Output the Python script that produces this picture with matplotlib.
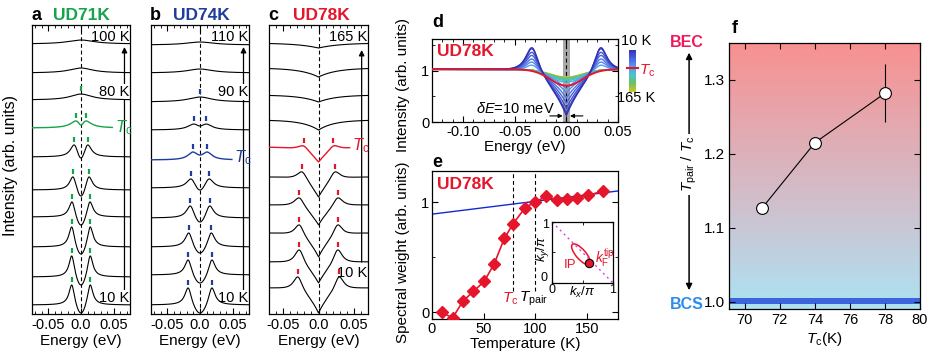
import numpy as np
import matplotlib
matplotlib.use("Agg")
import matplotlib.pyplot as plt
from matplotlib.colors import LinearSegmentedColormap, Normalize
from matplotlib.cm import ScalarMappable
from matplotlib.patches import Ellipse
from matplotlib.ticker import MultipleLocator

plt.rcParams["font.family"] = ["Liberation Sans", "DejaVu Sans"]
plt.rcParams["mathtext.fontset"] = "custom"
plt.rcParams["mathtext.rm"] = "Liberation Sans"
plt.rcParams["mathtext.it"] = "Liberation Sans:italic"
plt.rcParams["mathtext.bf"] = "Liberation Sans:bold"
plt.rcParams["font.size"] = 10.5
plt.rcParams["axes.linewidth"] = 0.9

GREEN = "#14A44A"
BLUE = "#1F3D9C"
RED = "#E5162C"

# ---- panels a-c: symmetrized EDCs, listed from 10 K (bottom) upwards ----
# offsets / peak heights / values at E=0 are in stack units (pixels of the panel)
a_offset = [9, 37, 67, 97, 124, 157, 186, 214, 241, 270]
a_gap = [0.014, 0.014, 0.014, 0.0135, 0.012, 0.010, 0.007, 0, 0, 0]
a_width = [0.005, 0.005, 0.0052, 0.0055, 0.006, 0.007, 0.011, 0.02, 0.022, 0.025]
a_peak = [20, 21, 20, 15, 13, 12, 7, 6, 5, 4]
a_floor = [-8, -8, -7, -8, -6, -1, 3, 0, 0, 0]

b_offset = [9, 39, 67, 96, 126, 154, 184, 212, 241, 269]
b_gap = [0.018, 0.018, 0.017, 0.0146, 0.0135, 0.011, 0.0095, 0, 0, 0]
b_width = [0.006, 0.006, 0.0065, 0.007, 0.008, 0.009, 0.011, 0.022, 0.024, 0.026]
b_peak = [17, 15, 14, 12, 9, 8, 6, 5, 4, 3]
b_floor = [-8, -8, -6, -4, -2, 5, 4, 0, 0, 0]

c_offset = [26, 52, 81, 109, 137, 167, 194, 219, 246, 271]
c_gap = [0.029, 0.027, 0.027, 0.027, 0.023, 0.021, 0, 0, 0, 0]
c_width = [0.008, 0.008, 0.008, 0.009, 0.009, 0.01, 0, 0, 0, 0]
c_peak = [11, 12, 8, 7, 5, 1, 0, 0, 0, 0]
c_floor = [-25, -21, -24, -20, -20, -15, -10, -7, -9, -5]
c_dipw = [0.018, 0.018, 0.018, 0.018, 0.018, 0.02, 0.022, 0.025, 0.025, 0.03]

# ---- panel d: normalized spectra UD78K ----
temps = [10, 20, 30, 40, 50, 60, 70, 78, 90, 100, 110, 120, 130, 140, 150, 165]
d_peak = [0.42, 0.40, 0.33, 0.27, 0.20, 0.14, 0.08, 0, 0, 0, 0, 0, 0, 0, 0, 0]
d_floor = [-0.90, -0.85, -0.76, -0.66, -0.56, -0.46, -0.38, -0.32,
           -0.25, -0.22, -0.20, -0.19, -0.18, -0.17, -0.16, -0.15]

# ---- panel e: spectral weight vs T ----
e_temp = [9.4, 20, 29.8, 40, 50.5, 60.2, 70, 78.3, 90.3, 100, 110, 121, 130.8, 140.5, 150.8, 165.7]
e_weight = [0.0, -0.05, 0.10, 0.19, 0.28, 0.44, 0.67, 0.80, 0.95, 1.0, 1.05, 1.02, 1.03, 1.04, 1.06, 1.10]
e_fit_T = [0, 180]
e_fit_W = [0.89, 1.10]

# ---- panel f ----
f_tc = [71, 74, 78]
f_ratio = [1.127, 1.215, 1.282]
f_err = [0, 0, 0.039]


def spectrum(e, gap, width, peak, floor, dipw, vshape):
    if vshape:
        dip = lambda x: np.exp(-np.abs(x) / dipw)
    else:
        dip = lambda x: np.exp(-(x / dipw) ** 2)
    if gap == 0:
        if peak > 0:
            return peak * width ** 2 / (e ** 2 + width ** 2)
        return floor * dip(e)

    def pair(x):
        return (width ** 2 / ((x - gap) ** 2 + width ** 2)
                + width ** 2 / ((x + gap) ** 2 + width ** 2))

    a, b = np.linalg.solve([[pair(gap), dip(gap)], [pair(0.0), dip(0.0)]], [peak, floor])
    return a * pair(e) + b * dip(e)


fig = plt.figure(figsize=(9.35, 3.59), dpi=100)


def stack_panel(rect, xlim, offsets, gaps, widths, peaks, floors, dipws, vshape,
                tc_idx, color, cut, zero_tick, labels, arrow_x, arrow_y, tc_pos):
    ax = fig.add_axes(rect)
    e = np.linspace(xlim[0], xlim[1], 700)
    for i in range(len(offsets)):
        dw = dipws[i] if dipws is not None else 0.7 * gaps[i] if gaps[i] else 0.01
        y = offsets[i] + spectrum(e, gaps[i], widths[i], peaks[i], floors[i], dw, vshape)
        if i == tc_idx:
            m = e <= cut
            ax.plot(e[m], y[m], color=color, lw=1.0, zorder=3)
        else:
            ax.plot(e, y, color="k", lw=0.8, zorder=3)
        if gaps[i] > 0:
            for s in (-1, 1):
                yp = offsets[i] + spectrum(np.array([s * gaps[i]]), gaps[i], widths[i],
                                           peaks[i], floors[i], dw, vshape)[0]
                ax.plot([s * gaps[i]] * 2, [yp + 3, yp + 8], color=color, lw=1.6,
                        solid_capstyle="butt", zorder=4)
        if i == zero_tick:
            yp = offsets[i] + peaks[i]
            ax.plot([0, 0], [yp + 3, yp + 8], color=color, lw=1.6,
                    solid_capstyle="butt", zorder=4)
    ax.axvline(0, color="k", lw=0.8, ls=(0, (3.5, 2.5)), zorder=2)
    ax.annotate("", xy=(arrow_x, arrow_y[1]), xytext=(arrow_x, arrow_y[0]),
                arrowprops=dict(arrowstyle="-|>", lw=0.9, color="k",
                                mutation_scale=8, shrinkA=0, shrinkB=0), zorder=1)
    for txt, yy in labels:
        ax.text(xlim[1] - 0.001, yy, txt, ha="right", va="center", fontsize=10.5,
                bbox=dict(fc="white", ec="none", pad=0.6), zorder=2)
    ax.text(tc_pos[0], tc_pos[1], r"$T_\mathrm{c}$", color=color, fontsize=12,
            ha="left", va="center", zorder=5)
    ax.set_xlim(xlim)
    ax.set_ylim(0, 289)
    ax.set_yticks([])
    ax.set_xticks([-0.05, 0, 0.05])
    ax.set_xticklabels(["-0.05", "0.0", "0.05"])
    ax.xaxis.set_minor_locator(MultipleLocator(0.01))
    ax.tick_params(axis="x", which="both", direction="in", top=True, pad=3, labelsize=10.5)
    ax.tick_params(axis="x", which="major", length=4)
    ax.tick_params(axis="x", which="minor", length=2.5)
    ax.set_xlabel("Energy (eV)", fontsize=11, labelpad=1)
    return ax


ax_a = stack_panel([0.0342, 0.1253, 0.1048, 0.805], (-0.075, 0.075), a_offset, a_gap,
                   a_width, a_peak, a_floor, None, False, 6, GREEN, 0.048, 7,
                   [("100 K", 277), ("80 K", 222), ("10 K", 16)], 0.0666, (24, 267),
                   (0.052, 186))
ax_b = stack_panel([0.1615, 0.1253, 0.1048, 0.805], (-0.075, 0.075), b_offset, b_gap,
                   b_width, b_peak, b_floor, None, False, 5, BLUE, 0.049, 7,
                   [("110 K", 277), ("90 K", 222), ("10 K", 16)], 0.0666, (24, 267),
                   (0.052, 156))
ax_c = stack_panel([0.2877, 0.1253, 0.1059, 0.805], (-0.07, 0.07), c_offset, c_gap,
                   c_width, c_peak, c_floor, c_dipw, True, 5, RED, 0.044, None,
                   [("165 K", 277), ("10 K", 41)], 0.061, (52, 264),
                   (0.047, 168))
ax_a.set_ylabel("Intensity (arb. units)", fontsize=11.5)
ax_a.yaxis.set_label_coords(-0.14, 0.515)

fig.text(0.034, 0.958, "a", fontsize=13, fontweight="bold", va="center")
fig.text(0.057, 0.958, "UD71K", fontsize=12.5, fontweight="bold", color=GREEN, va="center")
fig.text(0.160, 0.958, "b", fontsize=13, fontweight="bold", va="center")
fig.text(0.185, 0.958, "UD74K", fontsize=12.5, fontweight="bold", color=BLUE, va="center")
fig.text(0.287, 0.958, "c", fontsize=13, fontweight="bold", va="center")
fig.text(0.313, 0.958, "UD78K", fontsize=12.5, fontweight="bold", color=RED, va="center")

# ---- panel d ----
cmap_d = LinearSegmentedColormap.from_list(
    "tcol", ["#3232B0", "#4763E0", "#5A9CF0", "#48C4C8", "#70C060", "#CCC826"])
norm_d = Normalize(10, 165)
ax_d = fig.add_axes([0.462, 0.660, 0.199, 0.231])
ax_d.axvspan(-0.0035, 0.0035, color="#A8A8A8", lw=0, zorder=1)
ed = np.linspace(-0.13, 0.05, 700)
for i in range(len(temps) - 1, -1, -1):
    below = temps[i] < 78
    g = 0.033 if below else 0
    y = 1.03 + spectrum(ed, g, 0.008, d_peak[i], d_floor[i],
                        0.02 if below else 0.022, below)
    if temps[i] == 78:
        continue
    ax_d.plot(ed, y, color=cmap_d(norm_d(temps[i])), lw=1.0, zorder=3)
i_tc = temps.index(78)
ax_d.plot(ed, 1.03 + spectrum(ed, 0, 0.008, 0, d_floor[i_tc], 0.022, False),
          color=RED, lw=1.4, zorder=4)
ax_d.axvline(0, color="k", lw=0.8, ls=(0, (3.5, 2.5)), zorder=2)
ax_d.text(-0.125, 1.37, "UD78K", color=RED, fontsize=12.5, fontweight="bold", va="center")
ax_d.text(-0.049, 0.27, r"$\delta\mathit{E}$=10 meV", fontsize=10.5, ha="center", va="center")
ax_d.annotate("", xy=(-0.0035, 0.12), xytext=(-0.016, 0.12),
              arrowprops=dict(arrowstyle="-|>", lw=0.8, color="k", mutation_scale=6,
                              shrinkA=0, shrinkB=0))
ax_d.annotate("", xy=(0.0035, 0.12), xytext=(0.016, 0.12),
              arrowprops=dict(arrowstyle="-|>", lw=0.8, color="k", mutation_scale=6,
                              shrinkA=0, shrinkB=0))
ax_d.set_xlim(-0.13, 0.05)
ax_d.set_ylim(0, 1.62)
ax_d.set_xticks([-0.10, -0.05, 0.0, 0.05])
ax_d.set_xticklabels(["-0.10", "-0.05", "0.00", "0.05"])
ax_d.xaxis.set_minor_locator(MultipleLocator(0.01))
ax_d.set_yticks([0, 1])
ax_d.yaxis.set_minor_locator(MultipleLocator(0.5))
ax_d.tick_params(which="both", direction="in", top=True, right=True, pad=2, labelsize=10.5)
ax_d.tick_params(which="major", length=4)
ax_d.tick_params(which="minor", length=2.5)
ax_d.set_xlabel("Energy (eV)", fontsize=11, labelpad=1)
ax_d.set_ylabel("Intensity (arb. units)", fontsize=11)
ax_d.yaxis.set_label_coords(-0.118, 0.45)
fig.text(0.462, 0.936, "d", fontsize=13, fontweight="bold", va="center")

cax = fig.add_axes([0.6727, 0.7437, 0.0075, 0.117])
cb = fig.colorbar(ScalarMappable(norm=norm_d, cmap=cmap_d), cax=cax)
cb.outline.set_visible(False)
cax.invert_yaxis()
cax.set_yticks([])
cax.plot([-0.3, 1.3], [78, 78], color=RED, lw=1.5, clip_on=False)
fig.text(0.680, 0.885, "10 K", fontsize=10.5, ha="center", va="center")
fig.text(0.680, 0.727, "165 K", fontsize=10.5, ha="center", va="center")
fig.text(0.683, 0.802, r"$T_\mathrm{c}$", fontsize=11, color=RED, ha="left", va="center")

# ---- panel e ----
ax_e = fig.add_axes([0.462, 0.1114, 0.199, 0.412])
ax_e.plot(e_fit_T, e_fit_W, color="#1428D8", lw=1.0, zorder=2)
ax_e.plot(e_temp, e_weight, color=RED, lw=1.2, marker="D", ms=6.5, mec=RED, mfc=RED, zorder=3)
for xv in (78, 100):
    ax_e.plot([xv, xv], [0.19, 1.28], color="k", lw=0.8, ls=(0, (3.5, 2.5)), zorder=1)
ax_e.text(5, 1.16, "UD78K", color=RED, fontsize=12.5, fontweight="bold", va="center")
ax_e.text(76, 0.12, r"$T_\mathrm{c}$", color=RED, fontsize=11, ha="center", va="center")
ax_e.text(98.5, 0.12, r"$T_\mathrm{pair}$", color="k", fontsize=11, ha="center", va="center")
ax_e.set_xlim(0, 180)
ax_e.set_ylim(-0.06, 1.28)
ax_e.set_xticks([0, 50, 100, 150])
ax_e.set_yticks([0, 1])
ax_e.yaxis.set_minor_locator(MultipleLocator(0.5))
ax_e.tick_params(which="both", direction="in", right=True, pad=2, labelsize=10.5)
ax_e.tick_params(which="major", length=4)
ax_e.tick_params(which="minor", length=2.5)
ax_e.set_xlabel("Temperature (K)", fontsize=11, labelpad=1)
ax_e.set_ylabel("Spectral weight (arb. units)", fontsize=11)
ax_e.yaxis.set_label_coords(-0.118, 0.45)
fig.text(0.462, 0.546, "e", fontsize=13, fontweight="bold", va="center")

ax_in = fig.add_axes([0.5904, 0.2117, 0.0652, 0.170])
ax_in.plot([0, 1], [1, 0], color="#E040E0", lw=1.0, ls=(0, (1.5, 2.5)))
ax_in.add_patch(Ellipse((0.475, 0.47), 0.43, 0.16, angle=-49, fill=False,
                        ec=RED, lw=1.1))
ax_in.plot([0.61], [0.33], "o", ms=6, mfc=RED, mec="k", mew=0.8)
ax_in.text(0.30, 0.30, "IP", color=RED, fontsize=9.5, ha="center", va="center")
ax_in.text(0.70, 0.40, r"$k_\mathrm{F}^\mathrm{tip}$", color=RED, fontsize=10, ha="left", va="center")
ax_in.set_xlim(0, 1)
ax_in.set_ylim(0, 1)
ax_in.set_xticks([0, 1])
ax_in.set_yticks([0, 1])
ax_in.set_yticklabels([])
ax_in.xaxis.set_minor_locator(MultipleLocator(0.5))
ax_in.yaxis.set_minor_locator(MultipleLocator(0.5))
ax_in.tick_params(which="both", direction="in", top=True, right=True, pad=1,
                  labelsize=9, length=2.5)
ax_in.text(-0.1, 0.95, "1", fontsize=9, ha="center", va="center", transform=ax_in.transAxes)
ax_in.text(-0.13, 0.09, "0", fontsize=9, ha="center", va="center", transform=ax_in.transAxes)
ax_in.text(0.5, -0.15, r"$k_x$/$\pi$", fontsize=9.5, ha="center", va="center",
           transform=ax_in.transAxes)
ax_in.text(-0.15, 0.56, r"$k_y$/$\pi$", fontsize=9.5, ha="center", va="center",
           rotation=90, transform=ax_in.transAxes)

# ---- panel f ----
ax_f = fig.add_axes([0.7797, 0.1393, 0.2043, 0.741])
bg = LinearSegmentedColormap.from_list("bg", [(0, "#ACE3F3"), (0.35, "#CDC3D1"), (1, "#F99090")])
ax_f.imshow(np.linspace(0, 1, 256).reshape(-1, 1), extent=[69.1, 80, 0.99, 1.35],
            origin="lower", aspect="auto", cmap=bg, zorder=0)
ax_f.axhspan(0.9965, 1.0045, color="#3C64DC", lw=0, zorder=1)
ax_f.errorbar(f_tc, f_ratio, yerr=f_err, color="k", lw=0.8, elinewidth=0.8, capsize=0,
              marker="o", ms=8.5, mfc="white", mec="k", mew=0.8, zorder=3)
ax_f.set_xlim(69.1, 80)
ax_f.set_ylim(0.99, 1.35)
ax_f.set_xticks([70, 72, 74, 76, 78, 80])
ax_f.set_yticks([1.0, 1.1, 1.2, 1.3])
ax_f.tick_params(which="both", direction="in", top=True, right=True, pad=3,
                 labelsize=10.5, length=4)
ax_f.tick_params(axis="y", labelsize=11)
ax_f.set_xlabel(r"$T_\mathrm{c}$(K)", fontsize=11, labelpad=2)
fig.text(0.783, 0.92, "f", fontsize=13, fontweight="bold", va="center")

fig.patches.append(matplotlib.patches.FancyArrowPatch(
    (0.737, 0.184), (0.737, 0.861), transform=fig.transFigure, arrowstyle="<|-|>",
    mutation_scale=9, lw=1.1, color="k"))
fig.text(0.737, 0.543, r"$T_\mathrm{pair}$ / $T_\mathrm{c}$", fontsize=11, rotation=90,
         ha="center", va="center", bbox=dict(fc="white", ec="none", pad=1.5))
fig.text(0.735, 0.883, "BEC", fontsize=11.5, fontweight="bold", color="#F0185C",
         ha="center", va="center")
fig.text(0.735, 0.153, "BCS", fontsize=11.5, fontweight="bold", color="#2B8DEB",
         ha="center", va="center")

fig.savefig("out.png", dpi=100)
